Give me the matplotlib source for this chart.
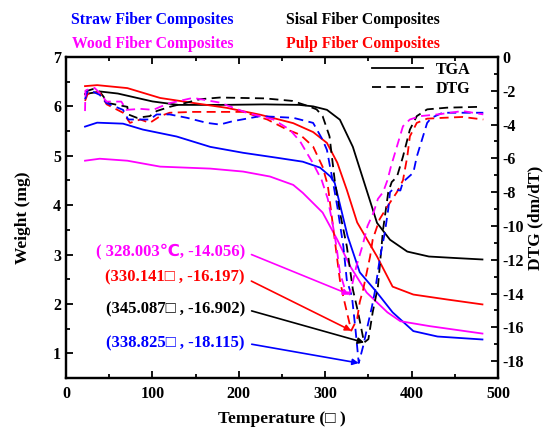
import matplotlib
matplotlib.use('Agg')
import matplotlib.pyplot as plt
from matplotlib.lines import Line2D
from matplotlib.ticker import MultipleLocator

plt.rcParams['font.family'] = ['Liberation Serif', 'DejaVu Sans']
plt.rcParams['font.weight'] = 'bold'
plt.rcParams['axes.unicode_minus'] = False

# --- TGA curves (weight, mg) ---
sisal_tga_t = [22, 40, 60, 100, 130, 180, 230, 270, 286, 302, 317, 332, 344, 360, 375, 395, 420, 450, 482]
sisal_tga_w = [6.25, 6.30, 6.26, 6.10, 6.03, 6.03, 6.04, 6.03, 6.00, 5.93, 5.73, 5.18, 4.52, 3.64, 3.30, 3.06, 2.96, 2.93, 2.90]

pulp_tga_t = [22, 36, 71, 109, 147, 186, 225, 263, 286, 302, 314, 325, 337, 360, 378, 402, 441, 482]
pulp_tga_w = [6.41, 6.43, 6.37, 6.17, 6.07, 5.97, 5.83, 5.66, 5.48, 5.26, 4.86, 4.31, 3.65, 2.96, 2.35, 2.19, 2.09, 1.99]

straw_tga_t = [22, 36, 66, 89, 128, 167, 205, 244, 274, 294, 306, 311, 326, 340, 360, 378, 402, 430, 482]
straw_tga_w = [5.59, 5.67, 5.65, 5.53, 5.39, 5.18, 5.06, 4.96, 4.88, 4.76, 4.58, 4.45, 3.37, 2.64, 2.23, 1.83, 1.45, 1.34, 1.28]

wood_tga_t = [22, 39, 71, 109, 167, 205, 236, 263, 274, 297, 314, 329, 348, 372, 387, 421, 482]
wood_tga_w = [4.90, 4.94, 4.90, 4.78, 4.74, 4.68, 4.58, 4.41, 4.25, 3.85, 3.30, 2.76, 2.23, 1.83, 1.65, 1.55, 1.40]

# --- DTG curves (dm/dT) ---
sisal_dtg_t = [22, 31, 39, 49, 71, 72, 82, 97, 105, 120, 140, 155, 178, 230, 262, 280, 290, 297, 305, 311,
               317, 325, 332, 338, 345, 350, 355, 361, 367, 373, 377, 383, 390, 398, 406, 418, 441, 479]
sisal_dtg_d = [-2.05, -1.9, -2.05, -2.73, -2.95, -3.4, -3.6, -3.5, -3.2, -2.95, -2.7, -2.5, -2.4, -2.45, -2.6, -2.9, -3.1, -3.5, -4.7, -7.3,
               -9.2, -11.2, -13.75, -15.1, -16.9, -16.7, -15.1, -13.6, -10.2, -8.0, -7.4, -7.1, -5.9, -4.3, -3.5, -3.1, -3.0, -2.95]

pulp_dtg_t = [22, 25, 31, 39, 47, 66, 74, 86, 97, 109, 120, 147, 205, 233, 256, 271, 286, 297, 303, 309, 314, 317,
              321, 326, 330.141, 337, 340, 344, 352, 355, 363, 372, 383, 390, 395, 398, 406, 418, 437, 459, 483]
pulp_dtg_d = [-2.6, -2.2, -2.1, -2.1, -2.8, -3.3, -3.9, -3.7, -3.9, -3.5, -3.3, -3.25, -3.25, -3.7, -4.3, -4.6, -5.3, -6.5, -7.6, -10.0, -12.0, -13.2,
              -14.2, -15.3, -16.197, -15.5, -14.5, -13.75, -11.8, -10.8, -9.6, -8.85, -8.0, -7.3, -5.9, -4.7, -3.9, -3.65, -3.6, -3.55, -3.7]

straw_dtg_t = [22, 25, 31, 39, 47, 66, 72, 97, 105, 120, 140, 163, 178, 193, 225, 263, 286, 297, 302, 306, 309, 314, 321, 325,
               331, 335, 338.825, 344, 350, 354, 358, 363, 369, 373, 375, 378, 387, 390, 402, 406, 412, 418, 423, 436, 459, 483]
straw_dtg_d = [-2.5, -2.0, -2.05, -2.24, -2.73, -3.13, -3.7, -3.7, -3.4, -3.4, -3.6, -3.9, -4.0, -3.8, -3.5, -3.6, -3.9, -4.9, -5.5, -6.6, -7.4, -8.85, -11.2, -13.2,
               -14.2, -16.1, -18.115, -17.1, -15.7, -14.8, -13.75, -12.0, -10.4, -9.0, -8.0, -7.85, -7.9, -7.4, -6.85, -5.9, -4.9, -3.9, -3.6, -3.3, -3.3, -3.3]

wood_dtg_t = [22, 22.5, 24, 33, 39, 47, 64, 70, 86, 101, 109, 120, 147, 178, 209, 240, 259, 271, 279, 286, 296, 303, 309,
              313, 317, 322, 328.003, 332, 336, 343, 349, 356, 361, 367, 372, 376, 383, 390, 398, 410, 430, 459, 483]
wood_dtg_d = [-3.2, -2.0, -1.95, -1.83, -2.13, -2.64, -2.64, -3.13, -3.07, -3.13, -2.95, -2.73, -2.42, -2.7, -3.3, -3.7, -4.3, -5.0, -5.7, -6.3, -7.3, -8.4, -10.0,
              -11.2, -12.75, -13.6, -14.056, -13.3, -12.4, -11.2, -10.0, -9.2, -8.4, -8.0, -7.3, -6.5, -5.3, -4.1, -3.7, -3.5, -3.4, -3.2, -3.4]

# peak labels (as printed on the original figure)
peak_labels = ['( 328.003\u2103, -14.056)', '(330.141\u25a1 , -16.197)',
               '(345.087\u25a1 , -16.902)', '(338.825\u25a1 , -18.115)']
peak_t = [328.003, 330.141, 345.087, 338.825]
peak_d = [-14.056, -16.197, -16.902, -18.115]
peak_colors = ['#FF00FF', '#FF0000', '#000000', '#0000FF']

fig = plt.figure(figsize=(5.51, 4.33), dpi=100)
ax = fig.add_axes([0.1198, 0.127, 0.784, 0.7414])
ax2 = ax.twinx()

lw = 1.3
dash = (0, (5, 3))

ax.plot(sisal_tga_t, sisal_tga_w, color='#000000', lw=lw)
ax.plot(pulp_tga_t, pulp_tga_w, color='#FF0000', lw=lw)
ax.plot(straw_tga_t, straw_tga_w, color='#0000FF', lw=lw)
ax.plot(wood_tga_t, wood_tga_w, color='#FF00FF', lw=lw)

ax2.plot(sisal_dtg_t, sisal_dtg_d, color='#000000', lw=lw, ls=dash)
ax2.plot(pulp_dtg_t, pulp_dtg_d, color='#FF0000', lw=lw, ls=dash)
ax2.plot(straw_dtg_t, straw_dtg_d, color='#0000FF', lw=lw, ls=dash)
ax2.plot(wood_dtg_t, wood_dtg_d, color='#FF00FF', lw=lw, ls=dash)

# axes
ax.set_xlim(0, 500)
ax.set_ylim(0.5, 7)
ax2.set_ylim(-19, 0)
ax.xaxis.set_major_locator(MultipleLocator(100))
ax.xaxis.set_minor_locator(MultipleLocator(50))
ax.yaxis.set_major_locator(MultipleLocator(1))
ax.yaxis.set_minor_locator(MultipleLocator(0.5))
ax2.yaxis.set_major_locator(MultipleLocator(2))
ax2.yaxis.set_minor_locator(MultipleLocator(1))

ax.tick_params(which='both', direction='in', top=True, labelsize=11.5, width=1.3)
ax.tick_params(axis='x', pad=6)
ax.tick_params(which='major', length=5)
ax.tick_params(which='minor', length=3)
ax2.tick_params(which='both', direction='in', labelsize=11.5, width=1.3)
ax2.tick_params(which='major', length=5)
ax2.tick_params(which='minor', length=3)
for a in (ax, ax2):
    for s in a.spines.values():
        s.set_linewidth(1.6)
    for lab in a.get_xticklabels() + a.get_yticklabels():
        lab.set_fontweight('bold')

ax.set_xlabel('Temperature (\u25a1 )', fontsize=12.5, fontweight='bold', labelpad=6)
ax.set_ylabel('Weight (mg)', fontsize=12.5, fontweight='bold', labelpad=16)
ax2.set_ylabel('DTG (dm/dT)', fontsize=12.5, fontweight='bold', labelpad=2)

# legend
handles = [Line2D([], [], color='black', lw=lw),
           Line2D([], [], color='black', lw=lw, ls=dash)]
ax.legend(handles, ['TGA', 'DTG'], loc='upper right', bbox_to_anchor=(0.97, 1.03),
          frameon=False, handlelength=3.2, labelspacing=0.2,
          prop={'weight': 'bold', 'size': 11.5})

# peak annotations
text_y = [0.393, 0.312, 0.215, 0.109]
for lab, t, d, c, ty in zip(peak_labels, peak_t, peak_d, peak_colors, text_y):
    ax2.annotate(lab, xy=(t, d), xycoords='data', xytext=(0.414, ty), textcoords='axes fraction',
                 ha='right', va='center', color=c, fontsize=12, fontweight='bold',
                 arrowprops=dict(arrowstyle='-|>', color=c, lw=1.2, shrinkA=3, shrinkB=0,
                                 mutation_scale=9, relpos=(1.0, 0.5)))

# series titles above the plot
fig.text(0.277, 0.954, 'Straw Fiber Composites', color='#0000FF', ha='center', va='center', fontsize=11.3, fontweight='bold')
fig.text(0.659, 0.954, 'Sisal Fiber Composites', color='#000000', ha='center', va='center', fontsize=11.3, fontweight='bold')
fig.text(0.277, 0.898, 'Wood Fiber Composites', color='#FF00FF', ha='center', va='center', fontsize=11.3, fontweight='bold')
fig.text(0.659, 0.898, 'Pulp Fiber Composites', color='#FF0000', ha='center', va='center', fontsize=11.3, fontweight='bold')

fig.savefig('out.png', dpi=100)
